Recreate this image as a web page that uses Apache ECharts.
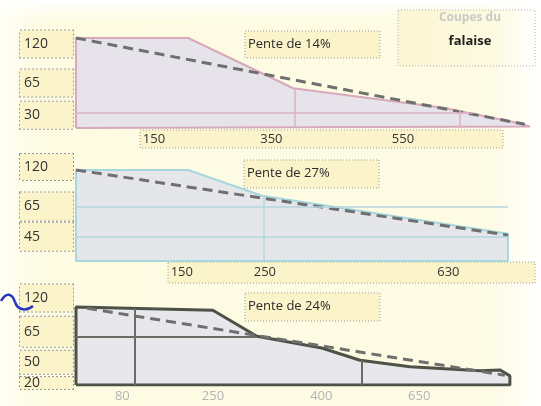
<!DOCTYPE html>
<html>
<head>
<meta charset="utf-8">
<script src="https://cdn.jsdelivr.net/npm/echarts@6/dist/echarts.min.js"></script>
<style>
  html, body { margin: 0; padding: 0; background: #fff; }
  #main { width: 541px; height: 406px; }
</style>
</head>
<body>
<div id="main"></div>
<script>
// profils des trois coupes (distance, hauteur) en unités schématiques
var profil1 = [[0,0],[0,120],[173,120],[335,53],[566,27],[674,8],[700,2],[700,0],[0,0]];
var profil2 = [[0,0],[0,120],[173,120],[287,86],[666,36],[666,0],[0,0]];
var profil3 = [[0,0],[0,120],[211,115],[279,75],[379,57],[438,38],[515,28],[623,22],[654,23],[669,14],[669,0],[0,0]];

// pente moyenne (ligne en tirets)
var pente1 = [[0,120],[692,5]];
var pente2 = [[0,120],[666,34]];
var pente3 = [[17,118],[661,15]];

// traits intérieurs (segments)
var traits1 = [[[0,21],[612,21]], [[338,0],[338,52]], [[592,0],[592,24]]];
var traits2 = [[[0,71],[666,71]], [[0,32],[666,32]], [[290,0],[290,85]]];
var traits3 = [[[0,74],[279,74]], [[91,0],[91,118]], [[441,0],[441,38]]];

// étiquettes verticales (hauteurs)
var yPos1 = [112, 60, 17],      yLab1 = ['120', '65', '30'];
var yPos2 = [124, 72, 32],      yLab2 = ['120', '65', '45'];
var yPos3 = [134, 82, 35, 3],   yLab3 = ['120', '65', '50', '20'];

// étiquettes horizontales (distances)
var xPos1 = [103, 284, 487],      xLab1 = ['150', '350', '550'];
var xPos2 = [146, 274, 557],      xLab2 = ['150', '250', '630'];
var xPos3 = [60, 194, 361, 512],  xLab3 = ['80', '250', '400', '650'];

var pentes = ['Pente de 14%', 'Pente de 27%', 'Pente de 24%'];

var FONT = 'Open Sans';
var boxFill = '#fbf4cb';
var boxLine = '#9a9a9a';

function nearest(arr, v) {
  var best = 0;
  for (var i = 1; i < arr.length; i++) {
    if (Math.abs(arr[i] - v) < Math.abs(arr[best] - v)) best = i;
  }
  return best;
}

function boite(h) {
  return {
    width: 49, height: h, lineHeight: h,
    padding: [0, 0, 0, 4],
    align: 'left',
    fontSize: 14, fontFamily: FONT, color: '#333',
    backgroundColor: boxFill,
    borderColor: boxLine, borderWidth: 1, borderType: 'dotted'
  };
}

function axeY(idx, pos, lab, hauteurs) {
  var rich = {};
  for (var i = 0; i < pos.length; i++) rich['b' + i] = boite(hauteurs[i]);
  return {
    type: 'value', gridIndex: idx, min: 0, max: 140,
    axisLine: { show: false }, axisTick: { show: false }, splitLine: { show: false },
    axisLabel: {
      customValues: pos,
      margin: 3,
      hideOverlap: false,
      showMinLabel: true,
      showMaxLabel: true,
      formatter: function (v) {
        var i = nearest(pos, v);
        return '{b' + i + '|' + lab[i] + '}';
      },
      rich: rich
    }
  };
}

function axeX(idx, pos, lab, couleur) {
  return {
    type: 'value', gridIndex: idx, min: 0, max: 700,
    axisLine: { show: false }, axisTick: { show: false }, splitLine: { show: false },
    axisLabel: {
      customValues: pos,
      margin: 5,
      align: 'left',
      fontSize: 13, fontFamily: FONT, color: couleur,
      formatter: function (v) { return lab[nearest(pos, v)]; }
    }
  };
}

function segments(traits, couleur, largeur) {
  return traits.map(function (s) {
    return [{ coord: s[0], lineStyle: { color: couleur, width: largeur, type: 'solid' } }, { coord: s[1] }];
  });
}

function coupe(idx, profil, pente, traits, trait, couleurTrait, largeur, fond) {
  return [{
    type: 'line', xAxisIndex: idx, yAxisIndex: idx,
    data: profil, symbol: 'none', silent: true,
    lineStyle: { color: trait, width: largeur },
    areaStyle: { color: fond, opacity: 1 },
    markLine: {
      silent: true, symbol: 'none', label: { show: false },
      data: segments(traits, couleurTrait, largeur > 2 ? 2 : 1.5)
    },
    z: 2
  }, {
    type: 'line', xAxisIndex: idx, yAxisIndex: idx,
    data: pente, symbol: 'none', silent: true,
    lineStyle: { color: '#6f6f6f', width: 3, type: [10, 6] },
    z: 3
  }];
}

function cadre(x, y, w, h, z) {
  return {
    type: 'rect', z: z || 0, silent: true,
    shape: { x: x, y: y, width: w, height: h },
    style: { fill: boxFill, stroke: boxLine, lineWidth: 1, lineDash: [1, 2] }
  };
}

function texte(t, x, y) {
  return {
    type: 'text', z: 10, silent: true, x: x, y: y,
    style: { text: t, fill: '#2b2b2b', font: '13px "' + FONT + '"', verticalAlign: 'middle' }
  };
}

var myChart = echarts.init(document.getElementById('main'));
var option = {
  animation: false,
  backgroundColor: {
    type: 'linear', x: 0, y: 0, x2: 1, y2: 0,
    colorStops: [
      { offset: 0, color: '#fffef3' },
      { offset: 0.08, color: '#fdfbe2' },
      { offset: 0.9, color: '#fdfbe3' },
      { offset: 1, color: '#ffffff' }
    ]
  },
  grid: [
    { left: 76, width: 454, top: 23, height: 105 },
    { left: 76, width: 454, top: 154.8, height: 106.2 },
    { left: 76, width: 454, top: 294, height: 91 }
  ],
  xAxis: [
    axeX(0, xPos1, xLab1, '#333'),
    axeX(1, xPos2, xLab2, '#333'),
    axeX(2, xPos3, xLab3, '#b4b4b4')
  ],
  yAxis: [
    axeY(0, yPos1, yLab1, [27, 27, 27]),
    axeY(1, yPos2, yLab2, [26, 28, 28]),
    axeY(2, yPos3, yLab3, [27, 30, 23, 12])
  ],
  series: []
    .concat(coupe(0, profil1, pente1, traits1, '#d7a9ba', '#d9b3c3', 2, '#e6e4ea'))
    .concat(coupe(1, profil2, pente2, traits2, '#a6d6de', '#b5d5dd', 2, '#e5e6ea'))
    .concat(coupe(2, profil3, pente3, traits3, '#4d5146', '#6b6c66', 3, '#e8e8ec')),
  graphic: [
    {
      type: 'rect', z: -5, silent: true,
      shape: { x: 0, y: 0, width: 541, height: 22 },
      style: {
        fill: {
          type: 'linear', x: 0, y: 0, x2: 0, y2: 1,
          colorStops: [{ offset: 0, color: 'rgba(255,255,255,1)' }, { offset: 1, color: 'rgba(255,255,255,0)' }]
        }
      }
    },
    cadre(140, 130, 363, 18, -1),
    cadre(168, 262, 367, 21, -1),
    cadre(245, 31, 135, 27, 5),
    cadre(244, 160, 135, 28, 5),
    cadre(245, 293, 135, 28, 5),
    texte(pentes[0], 248, 44),
    texte(pentes[1], 247, 173),
    texte(pentes[2], 248, 306),
    {
      type: 'rect', z: 1, silent: true,
      shape: { x: 398, y: 10, width: 137, height: 56 },
      style: {
        fill: {
          type: 'linear', x: 0, y: 0, x2: 1, y2: 0,
          colorStops: [{ offset: 0, color: '#fbf6d2' }, { offset: 0.7, color: '#fdfae0' }, { offset: 1, color: '#ffffff' }]
        },
        stroke: '#b0b0b0', lineWidth: 1, lineDash: [1, 2]
      }
    },
    {
      type: 'text', z: 10, silent: true, x: 470, y: 18,
      style: { text: 'Coupes du', fill: '#c9c9c9', font: 'bold 12px "' + FONT + '"', align: 'center', verticalAlign: 'middle' }
    },
    {
      type: 'text', z: 10, silent: true, x: 470, y: 41,
      style: { text: 'falaise', fill: '#222', font: 'bold 13px "' + FONT + '"', align: 'center', verticalAlign: 'middle' }
    },
    {
      type: 'bezierCurve', z: 10, silent: true,
      shape: { x1: 1, y1: 301, cpx1: 6, cpy1: 292, cpx2: 12, cpy2: 293, x2: 15, y2: 302 },
      style: { fill: 'none', stroke: '#2536c4', lineWidth: 2.5 }
    },
    {
      type: 'bezierCurve', z: 10, silent: true,
      shape: { x1: 15, y1: 302, cpx1: 18, cpy1: 311, cpx2: 27, cpy2: 311, x2: 33, y2: 306 },
      style: { fill: 'none', stroke: '#2536c4', lineWidth: 2.5 }
    }
  ]
};

myChart.setOption(option);
</script>
</body>
</html>
